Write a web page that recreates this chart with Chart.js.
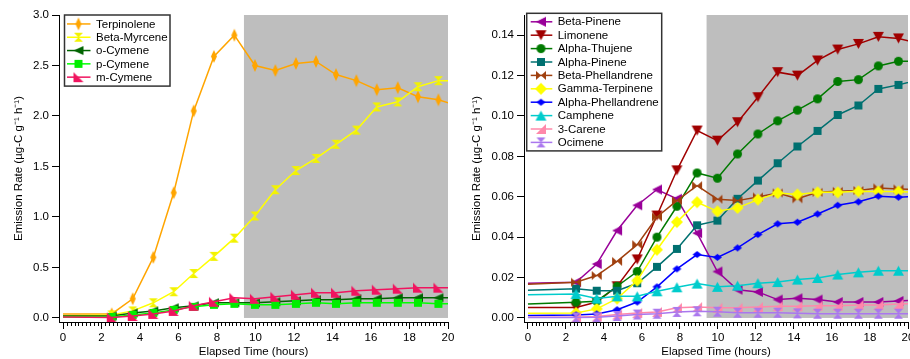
<!DOCTYPE html>
<html>
<head>
<meta charset="utf-8">
<script src="https://cdn.jsdelivr.net/npm/chart.js@4.4.1/dist/chart.umd.min.js"></script>
<style>
  html, body { margin: 0; padding: 0; background: #fff; }
  #wrap { display: flex; width: 910px; height: 359px; }
  canvas { display: block; }
</style>
</head>
<body>
<div id="wrap">
  <canvas id="leftChart" width="455" height="359"></canvas>
  <canvas id="rightChart" width="455" height="359"></canvas>
</div>
<script>
// shared time base (hours); last point sits just past the axis and gets clipped
const elapsedHours = [0, 2.53, 3.62, 4.69, 5.75, 6.79, 7.84, 8.9, 9.97, 11.03, 12.1, 13.14, 14.18, 15.24, 16.3, 17.39, 18.44, 19.5, 20.56];
const shadeFrom = 9.4;
const shadeTo = 20;

// left panel
const terpinolene = [0.04, 0.04, 0.19, 0.60, 1.24, 2.05, 2.59, 2.80, 2.50, 2.45, 2.52, 2.54, 2.41, 2.35, 2.26, 2.28, 2.19, 2.16, 2.10];
const betaMyrcene = [0.02, 0.03, 0.07, 0.15, 0.26, 0.44, 0.61, 0.79, 1.01, 1.27, 1.46, 1.58, 1.72, 1.86, 2.09, 2.14, 2.29, 2.35, 2.35];
const oCymene = [0.02, 0.02, 0.05, 0.07, 0.10, 0.12, 0.15, 0.15, 0.15, 0.16, 0.17, 0.18, 0.18, 0.19, 0.19, 0.20, 0.20, 0.20, 0.20];
const pCymene = [0.01, 0.01, 0.03, 0.05, 0.08, 0.11, 0.13, 0.14, 0.13, 0.13, 0.14, 0.15, 0.14, 0.15, 0.15, 0.15, 0.15, 0.14, 0.14];
const mCymene = [0.01, 0.005, 0.02, 0.04, 0.07, 0.12, 0.16, 0.20, 0.19, 0.21, 0.23, 0.25, 0.25, 0.27, 0.28, 0.29, 0.30, 0.30, 0.30];

// right panel
const betaPinene = [0.0172, 0.0177, 0.0267, 0.0433, 0.0558, 0.0636, 0.059, 0.042, 0.023, 0.014, 0.0129, 0.0091, 0.0097, 0.0091, 0.0079, 0.0079, 0.0079, 0.0084, 0.009];
const limonene = [0.0052, 0.0052, 0.0079, 0.0157, 0.029, 0.0507, 0.0731, 0.0928, 0.0878, 0.0969, 0.1093, 0.1217, 0.12, 0.1275, 0.1329, 0.1357, 0.1392, 0.1384, 0.1360];
const alphaThujene = [0.0069, 0.0078, 0.0083, 0.0157, 0.023, 0.040, 0.0553, 0.0718, 0.0692, 0.0812, 0.0911, 0.0976, 0.1029, 0.1085, 0.1171, 0.118, 0.1248, 0.1271, 0.1270];
const alphaPinene = [0.0137, 0.0145, 0.0135, 0.0135, 0.0172, 0.0253, 0.0342, 0.0459, 0.0482, 0.059, 0.068, 0.0766, 0.0849, 0.0926, 0.1005, 0.1052, 0.1134, 0.1154, 0.118];
const betaPhellandrene = [0.0167, 0.0177, 0.021, 0.028, 0.0363, 0.050, 0.0581, 0.0655, 0.0588, 0.0581, 0.0599, 0.0619, 0.059, 0.0622, 0.0627, 0.0631, 0.0644, 0.0639, 0.0635];
const gammaTerpinene = [0.0023, 0.0025, 0.0045, 0.0096, 0.0185, 0.0338, 0.0475, 0.0573, 0.0528, 0.0545, 0.0586, 0.0619, 0.0611, 0.0622, 0.0622, 0.0627, 0.0626, 0.0626, 0.0622];
const alphaPhellandrene = [0.0012, 0.0015, 0.002, 0.0041, 0.0079, 0.0154, 0.0243, 0.0314, 0.030, 0.0347, 0.0413, 0.0466, 0.0474, 0.0515, 0.0558, 0.0575, 0.0603, 0.0598, 0.0603];
const camphene = [0.0115, 0.0119, 0.0096, 0.0107, 0.0107, 0.0132, 0.0152, 0.017, 0.0154, 0.016, 0.0172, 0.0178, 0.019, 0.0198, 0.0215, 0.0226, 0.0234, 0.0234, 0.0234];
const carene3 = [0.0003, 0.0003, 0.0007, 0.0017, 0.0025, 0.003, 0.005, 0.0054, 0.005, 0.005, 0.0054, 0.0058, 0.0058, 0.0061, 0.0061, 0.0064, 0.0064, 0.0069, 0.0071];
const ocimene = [0.0002, 0.0002, 0.0003, 0.001, 0.0017, 0.0021, 0.003, 0.0033, 0.0031, 0.0026, 0.0026, 0.0026, 0.0023, 0.0021, 0.0021, 0.0021, 0.0021, 0.0021, 0.0021];

const leftTicks = { min: -0.04, max: 3.0, step: 0.5, digits: 1 };
const rightTicks = { min: -0.002, max: 0.15, step: 0.02, digits: 2 };

const FONT = "'Liberation Sans', Arial, sans-serif";
Chart.defaults.font.family = FONT;
Chart.defaults.font.size = 11.5;
Chart.defaults.color = "#000";

function makeMarker(shape, color, w, h) {
  const c = document.createElement("canvas");
  c.width = w + 2;
  c.height = h + 2;
  const g = c.getContext("2d");
  g.translate(1, 1);
  g.fillStyle = color;
  const shapes = {
    diamond: [[w / 2, 0], [w, h / 2], [w / 2, h], [0, h / 2]],
    triLeft: [[0, h / 2], [w, 0], [w, h]],
    triDown: [[0, 0], [w, 0], [w / 2, h]],
    triUp: [[w / 2, 0], [w, h], [0, h]],
    square: [[0, 0], [w, 0], [w, h], [0, h]],
    hourglass: [[0, 0], [w, 0], [w / 2, h / 2], [w, h], [0, h], [w / 2, h / 2]],
    bowtie: [[0, 0], [w / 2, h / 2], [w, 0], [w, h], [w / 2, h / 2], [0, h]],
    flagLeft: [[0, 0], [0, h], [w, h]],
    flagRight: [[w, 0], [w, h], [0, h]],
  };
  g.beginPath();
  if (shape === "circle") {
    g.arc(w / 2, h / 2, w / 2, 0, Math.PI * 2);
  } else {
    shapes[shape].forEach(([px, py], i) => (i ? g.lineTo(px, py) : g.moveTo(px, py)));
    g.closePath();
  }
  g.fill();
  return c;
}

function series(label, data, color, marker, index) {
  return {
    label,
    data: elapsedHours.map((x, i) => ({ x, y: data[i] })),
    borderColor: color,
    backgroundColor: color,
    borderWidth: 1.5,
    pointStyle: marker,
    pointRadius: (ctx) => (ctx.dataIndex === 0 ? 0 : 4),
    tension: 0,
    order: -index,
  };
}

const shadePlugin = {
  id: "shade",
  beforeDatasetsDraw(chart) {
    const { ctx, scales: { x, y } } = chart;
    const x0 = x.getPixelForValue(shadeFrom);
    const x1 = x.getPixelForValue(shadeTo);
    const y0 = y.getPixelForValue(0);
    const y1 = y.getPixelForValue(y.max);
    ctx.save();
    ctx.fillStyle = "#bebebe";
    ctx.fillRect(x0, y1, x1 - x0, y0 - y1);
    ctx.restore();
  },
};

const minorTicksPlugin = {
  id: "minorTicks",
  afterDraw(chart) {
    const { ctx, scales: { x } } = chart;
    ctx.save();
    ctx.strokeStyle = "#000";
    ctx.lineWidth = 1;
    ctx.beginPath();
    for (let i = 0; i <= 100; i++) {
      if (i % 10 === 0) continue;
      const px = Math.round(x.getPixelForValue(i * 0.2)) + 0.5;
      ctx.moveTo(px, x.top);
      ctx.lineTo(px, x.top + 4);
    }
    ctx.stroke();
    ctx.restore();
  },
};

const boxLegendPlugin = {
  id: "boxLegend",
  afterDraw(chart, args, opts) {
    const { ctx } = chart;
    const sets = chart.data.datasets;
    const h = opts.rowHeight * sets.length + opts.pad * 2;
    ctx.save();
    ctx.fillStyle = "#fff";
    ctx.fillRect(opts.x, opts.y, opts.width, h);
    ctx.strokeStyle = "#333";
    ctx.lineWidth = 1.5;
    ctx.strokeRect(opts.x, opts.y, opts.width, h);
    ctx.font = `11.5px ${FONT}`;
    ctx.textBaseline = "middle";
    sets.forEach((ds, i) => {
      const cy = opts.y + opts.pad + opts.rowHeight * (i + 0.5);
      ctx.strokeStyle = ds.borderColor;
      ctx.lineWidth = 1.5;
      ctx.beginPath();
      ctx.moveTo(opts.x + opts.lineFrom, cy);
      ctx.lineTo(opts.x + opts.lineTo, cy);
      ctx.stroke();
      const m = ds.pointStyle;
      ctx.drawImage(m, opts.x + opts.markerX - m.width / 2, cy - m.height / 2);
      ctx.fillStyle = "#000";
      ctx.fillText(ds.label, opts.x + opts.textX, cy + 0.5);
    });
    ctx.restore();
  },
};

function buildOptions(ticks, yWidth, titlePad, padRight, legend) {
  return {
    responsive: false,
    animation: false,
    devicePixelRatio: 1,
    layout: { autoPadding: false, padding: { top: 15, right: padRight, bottom: 0, left: 0 } },
    plugins: { legend: { display: false }, tooltip: { enabled: false }, boxLegend: legend },
    scales: {
      x: {
        type: "linear",
        min: -4 / 19.2,
        max: 20,
        border: { display: true, color: "#000", width: 1 },
        grid: { display: true, drawOnChartArea: false, drawTicks: true, tickLength: 7, color: "#000" },
        ticks: { stepSize: 2, includeBounds: false, autoSkip: false, maxRotation: 0, padding: 2, color: "#000" },
        title: { display: true, text: "Elapsed Time (hours)", color: "#000", padding: { top: 0, bottom: 0 } },
        afterFit: (scale) => { scale.height = 37; scale.paddingLeft = 0; scale.paddingRight = 0; },
      },
      y: {
        type: "linear",
        min: ticks.min,
        max: ticks.max,
        border: { display: true, color: "#000", width: 1 },
        grid: { display: true, drawOnChartArea: false, drawTicks: true, tickLength: 7, color: "#000" },
        ticks: {
          stepSize: ticks.step,
          includeBounds: false,
          padding: 3,
          color: "#000",
          callback: (v) => Number(v).toFixed(ticks.digits),
        },
        title: { display: true, text: "Emission Rate (µg-C g⁻¹ h⁻¹)", color: "#000", padding: { top: titlePad, bottom: 0 } },
        afterFit: (scale) => { scale.width = yWidth; scale.paddingTop = 0; scale.paddingBottom = 0; },
      },
    },
  };
}

const leftSets = [
  series("Terpinolene", terpinolene, "#ffa500", makeMarker("diamond", "#ffa500", 6, 13), 0),
  series("Beta-Myrcene", betaMyrcene, "#ffff00", makeMarker("hourglass", "#f2f200", 9, 9), 1),
  series("o-Cymene", oCymene, "#006400", makeMarker("triLeft", "#006400", 10, 9), 2),
  series("p-Cymene", pCymene, "#00ff00", makeMarker("square", "#00ee00", 8, 8), 3),
  series("m-Cymene", mCymene, "#f0145f", makeMarker("flagLeft", "#f0145f", 10, 10), 4),
];

const rightSets = [
  series("Beta-Pinene", betaPinene, "#990099", makeMarker("triLeft", "#990099", 10, 10), 0),
  series("Limonene", limonene, "#a00000", makeMarker("triDown", "#a00000", 11, 10), 1),
  series("Alpha-Thujene", alphaThujene, "#007a00", makeMarker("circle", "#007a00", 9, 9), 2),
  series("Alpha-Pinene", alphaPinene, "#007070", makeMarker("square", "#007070", 8, 8), 3),
  series("Beta-Phellandrene", betaPhellandrene, "#a0400f", makeMarker("bowtie", "#a0400f", 10, 9), 4),
  series("Gamma-Terpinene", gammaTerpinene, "#ffff00", makeMarker("diamond", "#ffff00", 12, 12), 5),
  series("Alpha-Phellandrene", alphaPhellandrene, "#0000ff", makeMarker("diamond", "#0000ff", 9, 7), 6),
  series("Camphene", camphene, "#00cccc", makeMarker("triUp", "#00cccc", 11, 10), 7),
  series("3-Carene", carene3, "#ff88aa", makeMarker("flagRight", "#ff88aa", 10, 10), 8),
  series("Ocimene", ocimene, "#aa77ee", makeMarker("hourglass", "#aa77ee", 9, 10), 9),
];

new Chart(document.getElementById("leftChart"), {
  type: "line",
  data: { datasets: leftSets },
  options: buildOptions(leftTicks, 59, 11.5, 7,
    { x: 64.5, y: 15, width: 105.5, rowHeight: 13.3, pad: 2.3, lineFrom: 2.5, lineTo: 26, markerX: 14, textX: 31.5 }),
  plugins: [shadePlugin, minorTicksPlugin, boxLegendPlugin],
});

new Chart(document.getElementById("rightChart"), {
  type: "line",
  data: { datasets: rightSets },
  options: buildOptions(rightTicks, 69, 15, 2,
    { x: 71.7, y: 13.3, width: 135, rowHeight: 13.4, pad: 1.8, lineFrom: 4, lineTo: 25.6, markerX: 14.3, textX: 31 }),
  plugins: [shadePlugin, minorTicksPlugin, boxLegendPlugin],
});
</script>
</body>
</html>
